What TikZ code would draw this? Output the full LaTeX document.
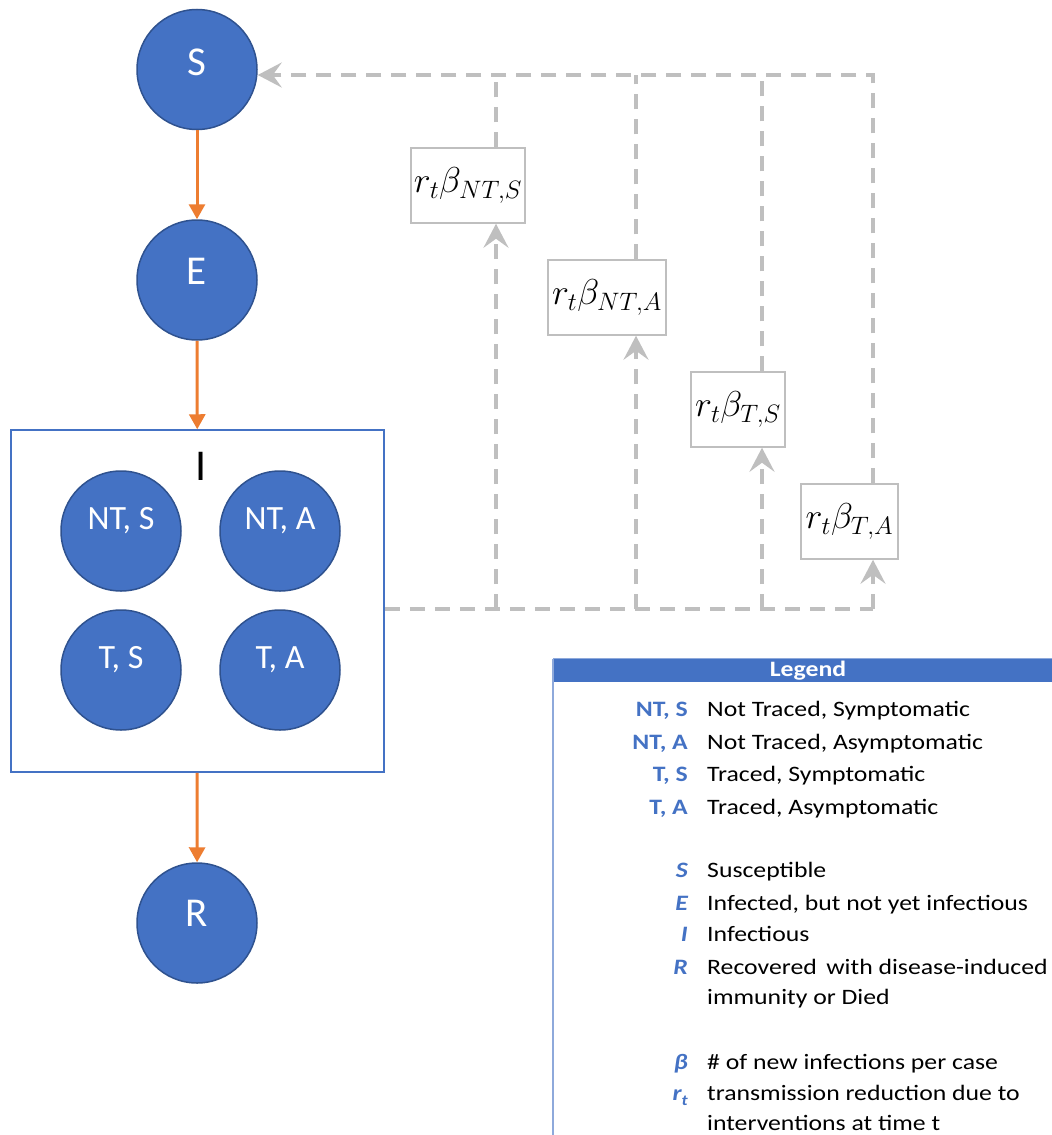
\documentclass[tikz,border=0pt]{standalone}
\usepackage{fix-cm}
\usepackage{fontspec}
\setmainfont{Carlito}
\newfontfamily\legfont{Carlito}[FakeStretch=1.17]
\usetikzlibrary{arrows.meta}
\definecolor{nodeblue}{HTML}{4472C4}
\definecolor{nodeedge}{HTML}{2F528F}
\definecolor{flow}{HTML}{ED7D31}
\definecolor{dashgrey}{HTML}{BFBFBF}
\definecolor{legline}{HTML}{8EA9DB}
\begin{document}
\begin{tikzpicture}[x=1pt,y=-1pt,
  comp/.style={circle, fill=nodeblue, draw=nodeedge, line width=1.5pt, minimum size=120pt, inner sep=0pt},
  bigtxt/.style={text=white, font=\fontsize{41}{48}\selectfont, inner sep=0pt},
  smalltxt/.style={text=white, font=\fontsize{34}{40}\selectfont, inner sep=0pt},
  flowarrow/.style={draw=flow, line width=3pt, -{Triangle[length=15pt,width=16pt]}},
  dashline/.style={draw=dashgrey, line width=3.5pt, dash pattern=on 15pt off 10pt},
  greytip/.style={-{Stealth[length=24pt,width=25pt,inset=9pt]}},
  ratebox/.style={draw=dashgrey, line width=1.5pt, fill=white, minimum height=75pt, inner sep=0pt, font=\fontsize{36}{40}\selectfont},
  abbr/.style={anchor=base east, text=nodeblue, font=\legfont\fontsize{22}{26}\selectfont\bfseries, inner sep=0pt},
  sym/.style={anchor=base east, text=nodeblue, font=\legfont\fontsize{22}{26}\selectfont\bfseries\itshape, inner sep=0pt},
  desc/.style={anchor=base west, text=black, font=\legfont\fontsize{22}{26}\selectfont, inner sep=0pt}
]
\useasboundingbox (0,0) rectangle (1052,1135);

% compartments
\node[comp] (S) at (197,69.5) {};
\node[bigtxt] (Slab) at ([yshift=7pt]S.center) {S};
\node[comp] (E) at (197,280) {};
\node[bigtxt] (Elab) at ([yshift=9pt]E.center) {E};
\node[draw=nodeblue, line width=1.5pt, minimum width=373pt, minimum height=342pt, inner sep=0pt] (Ibox) at (197.5,601) {};
\node[font=\fontsize{44}{50}\selectfont, inner sep=0pt] (Ilab) at (201,466) {I};
\node[comp] (NTS) at (121,531) {};
\node[smalltxt] (NTSl) at ([yshift=10pt]NTS.center) {NT, S};
\node[comp] (NTA) at (280,531) {};
\node[smalltxt] (NTAl) at ([yshift=10pt]NTA.center) {NT, A};
\node[comp] (TS) at (121,670) {};
\node[smalltxt] (TSl) at ([yshift=10pt]TS.center) {T, S};
\node[comp] (TA) at (280,670) {};
\node[smalltxt] (TAl) at ([yshift=10pt]TA.center) {T, A};
\node[comp] (R) at (197,923) {};
\node[bigtxt] (Rlab) at ([yshift=10pt]R.center) {R};

\draw[flowarrow] (S) -- (E);
\draw[flowarrow] (E) -- (Ibox);
\draw[flowarrow] (Ibox) -- (R);

% rate boxes
\node[ratebox, minimum width=114pt] (r1) at (468,185.5) {$r_t\beta_{NT,S}$};
\node[ratebox, minimum width=118pt] (r2) at (607,297.5) {$r_t\beta_{NT,A}$};
\node[ratebox, minimum width=94pt] (r3) at (738,409.5) {$r_t\beta_{T,S}$};
\node[ratebox, minimum width=97pt] (r4) at (849.5,521.5) {$r_t\beta_{T,A}$};

% dashed feedback lines
\coordinate (top4) at (873,75);
\coordinate (f1) at (496,609);
\coordinate (f2) at (636,609);
\coordinate (f3) at (762,609);
\coordinate (f4) at (873,609);

\draw[dashline] (Ibox.east |- f4) -- (f4);
\draw[dashline, greytip] (f1) -- (f1 |- r1.south);
\draw[dashline, greytip] (f2) -- (f2 |- r2.south);
\draw[dashline, greytip] (f3) -- (f3 |- r3.south);
\draw[dashline, greytip] (f4) -- (f4 |- r4.south);
\draw[dashline] (f1 |- r1.north) -- (f1 |- top4);
\draw[dashline] (f2 |- r2.north) -- (f2 |- top4);
\draw[dashline] (f3 |- r3.north) -- (f3 |- top4);
\draw[dashline, greytip] (f4 |- r4.north) -- (top4) -- (S.east |- top4);

% legend
\fill[nodeblue] (553,659) rectangle (1052,682);
\draw[legline, line width=1pt] (553,658.5) -- (1052,658.5);
\draw[legline, line width=1.5pt] (553,659) -- (553,1135);
\node[text=white, font=\legfont\fontsize{22}{26}\selectfont\bfseries, inner sep=0pt] (leghead) at (808,671) {Legend};

\node[abbr] (a1) at (688,716.5) {NT, S};
\node[desc] (d1) at (707,716.5) {Not Traced, Symptomatic};
\node[abbr] (a2) at (688,749) {NT, A};
\node[desc] (d2) at (707,749) {Not Traced, Asymptomatic};
\node[abbr] (a3) at (688,781.5) {T, S};
\node[desc] (d3) at (707,781.5) {Traced, Symptomatic};
\node[abbr] (a4) at (688,814) {T, A};
\node[desc] (d4) at (707,814) {Traced, Asymptomatic};

\node[sym] (s1) at (688,877.5) {S};
\node[desc] (e1) at (707,877.5) {Susceptible};
\node[sym] (s2) at (688,910) {E};
\node[desc] (e2) at (707,910) {Infected, but not yet infectious};
\node[sym] (s3) at (688,941.5) {I};
\node[desc] (e3) at (707,941.5) {Infectious};
\node[sym] (s4) at (688,974) {R};
\node[desc] (e4) at (707,974) {Recovered\, with disease-induced};
\node[desc] (e4b) at (707,1004.5) {immunity or Died};
\node[sym] (s5) at (688,1069.5) {β};
\node[desc] (e5) at (707,1069.5) {\# of new infections per case};
\node[sym] (s6) at (688,1100) {r\raisebox{-5pt}{\fontsize{15}{15}\selectfont t}};
\node[desc] (e6) at (707,1100) {transmission reduction due to};
\node[desc] (e6b) at (707,1130) {interventions at time t};
\end{tikzpicture}
\end{document}
